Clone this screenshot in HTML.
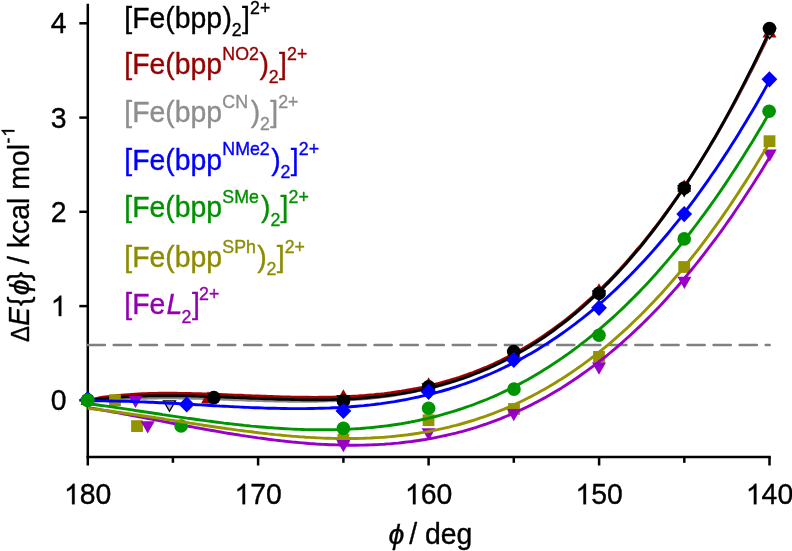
<!DOCTYPE html>
<html><head><meta charset="utf-8"><title>chart</title>
<style>html,body{margin:0;padding:0;background:#fff;}svg{display:block;will-change:transform}text{font-family:"Liberation Sans",sans-serif;stroke-width:0.35px;stroke-linejoin:round}</style>
</head><body>
<svg width="792" height="551" viewBox="0 0 792 551">
<rect width="792" height="551" fill="#fff"/>
<path d="M87.8 3.8 V465.5" stroke="#000" stroke-width="2.5" fill="none"/>
<path d="M86.5 456.9 H770.8" stroke="#000" stroke-width="2.5" fill="none"/>
<path d="M769.5 456.9 V465.5" stroke="#000" stroke-width="2.5"/>
<path d="M684.3 456.9 V462.8" stroke="#000" stroke-width="2.5"/>
<path d="M599.1 456.9 V465.5" stroke="#000" stroke-width="2.5"/>
<path d="M513.8 456.9 V462.8" stroke="#000" stroke-width="2.5"/>
<path d="M428.6 456.9 V465.5" stroke="#000" stroke-width="2.5"/>
<path d="M343.4 456.9 V462.8" stroke="#000" stroke-width="2.5"/>
<path d="M258.1 456.9 V465.5" stroke="#000" stroke-width="2.5"/>
<path d="M172.9 456.9 V462.8" stroke="#000" stroke-width="2.5"/>
<path d="M79.3 400.3 H87.8" stroke="#000" stroke-width="2.5"/>
<path d="M79.3 306.1 H87.8" stroke="#000" stroke-width="2.5"/>
<path d="M79.3 211.8 H87.8" stroke="#000" stroke-width="2.5"/>
<path d="M79.3 117.6 H87.8" stroke="#000" stroke-width="2.5"/>
<path d="M79.3 23.3 H87.8" stroke="#000" stroke-width="2.5"/>
<path d="M87.6 345.0 H769.7" stroke="#808080" stroke-width="2.4" stroke-dasharray="17.3 8.78" stroke-linecap="round" fill="none"/>
<path d="M87.7 400.4 L91.1 399.6 L94.5 398.8 L97.9 398.1 L101.3 397.4 L104.7 397.0 L108.2 396.6 L111.6 396.2 L115.0 395.9 L118.4 395.5 L121.8 395.2 L125.2 394.9 L128.6 394.6 L132.0 394.4 L135.4 394.2 L138.8 394.0 L142.2 393.8 L145.7 393.6 L149.1 393.5 L152.5 393.4 L155.9 393.4 L159.3 393.3 L162.7 393.3 L166.1 393.3 L169.5 393.3 L172.9 393.3 L176.3 393.3 L179.7 393.4 L183.2 393.4 L186.6 393.5 L190.0 393.5 L193.4 393.6 L196.8 393.7 L200.2 393.8 L203.6 393.9 L207.0 394.0 L210.4 394.1 L213.8 394.2 L217.2 394.4 L220.7 394.5 L224.1 394.6 L227.5 394.8 L230.9 394.9 L234.3 395.1 L237.7 395.2 L241.1 395.3 L244.5 395.5 L247.9 395.6 L251.3 395.8 L254.7 395.9 L258.1 396.0 L261.6 396.2 L265.0 396.3 L268.4 396.4 L271.8 396.5 L275.2 396.7 L278.6 396.8 L282.0 396.9 L285.4 397.0 L288.8 397.0 L292.2 397.1 L295.6 397.2 L299.1 397.2 L302.5 397.3 L305.9 397.3 L309.3 397.3 L312.7 397.4 L316.1 397.4 L319.5 397.3 L322.9 397.3 L326.3 397.3 L329.7 397.2 L333.1 397.1 L336.6 397.0 L340.0 396.9 L343.4 396.8 L346.8 396.6 L350.2 396.5 L353.6 396.3 L357.0 396.1 L360.4 395.8 L363.8 395.6 L367.2 395.3 L370.6 395.0 L374.1 394.7 L377.5 394.3 L380.9 394.0 L384.3 393.6 L387.7 393.1 L391.1 392.7 L394.5 392.2 L397.9 391.7 L401.3 391.2 L404.7 390.6 L408.1 390.0 L411.6 389.4 L415.0 388.8 L418.4 388.1 L421.8 387.4 L425.2 386.6 L428.6 385.9 L432.0 385.1 L435.4 384.2 L438.8 383.3 L442.2 382.4 L445.6 381.5 L449.1 380.5 L452.5 379.4 L455.9 378.4 L459.3 377.3 L462.7 376.1 L466.1 375.0 L469.5 373.7 L472.9 372.5 L476.3 371.2 L479.7 369.8 L483.1 368.4 L486.6 367.0 L490.0 365.5 L493.4 364.0 L496.8 362.4 L500.2 360.8 L503.6 359.1 L507.0 357.4 L510.4 355.6 L513.8 353.8 L517.2 352.0 L520.6 350.0 L524.1 348.1 L527.5 346.1 L530.9 344.0 L534.3 341.9 L537.7 339.7 L541.1 337.5 L544.5 335.2 L547.9 332.8 L551.3 330.4 L554.7 328.0 L558.1 325.5 L561.6 322.9 L565.0 320.3 L568.4 317.6 L571.8 314.8 L575.2 312.0 L578.6 309.1 L582.0 306.2 L585.4 303.2 L588.8 300.1 L592.2 297.0 L595.6 293.8 L599.0 290.6 L602.5 287.3 L605.9 283.9 L609.3 280.4 L612.7 276.9 L616.1 273.3 L619.5 269.7 L622.9 265.9 L626.3 262.1 L629.7 258.3 L633.1 254.3 L636.5 250.3 L640.0 246.3 L643.4 242.1 L646.8 237.9 L650.2 233.6 L653.6 229.2 L657.0 224.8 L660.4 220.3 L663.8 215.7 L667.2 211.1 L670.6 206.3 L674.0 201.5 L677.5 196.6 L680.9 191.7 L684.3 186.6 L687.7 181.5 L691.1 176.3 L694.5 171.0 L697.9 165.6 L701.3 160.2 L704.7 154.7 L708.1 149.1 L711.5 143.4 L715.0 137.7 L718.4 131.8 L721.8 125.9 L725.2 119.9 L728.6 113.8 L732.0 107.6 L735.4 101.3 L738.8 94.9 L742.2 88.4 L745.6 81.9 L749.0 75.2 L752.5 68.4 L755.9 61.6 L759.3 54.6 L762.7 47.6 L766.1 40.5 L769.5 33.2" fill="none" stroke="#a80000" stroke-width="2.90" stroke-linejoin="round"/>
<path d="M87.7 401.2 L91.1 401.0 L94.5 400.8 L97.9 400.6 L101.3 400.5 L104.7 400.4 L108.2 400.3 L111.6 400.2 L115.0 399.9 L118.4 399.6 L121.8 399.3 L125.2 399.1 L128.6 398.9 L132.0 398.7 L135.4 398.6 L138.8 398.4 L142.2 398.3 L145.7 398.2 L149.1 398.1 L152.5 398.0 L155.9 398.0 L159.3 397.9 L162.7 397.9 L166.1 397.9 L169.5 397.9 L172.9 397.9 L176.3 397.9 L179.7 398.0 L183.2 398.0 L186.6 398.1 L190.0 398.1 L193.4 398.2 L196.8 398.3 L200.2 398.4 L203.6 398.5 L207.0 398.6 L210.4 398.7 L213.8 398.8 L217.2 399.0 L220.7 399.1 L224.1 399.2 L227.5 399.4 L230.9 399.5 L234.3 399.7 L237.7 399.8 L241.1 399.9 L244.5 400.1 L247.9 400.2 L251.3 400.3 L254.7 400.4 L258.1 400.5 L261.6 400.6 L265.0 400.7 L268.4 400.8 L271.8 400.9 L275.2 401.0 L278.6 401.0 L282.0 401.1 L285.4 401.1 L288.8 401.2 L292.2 401.2 L295.6 401.2 L299.1 401.3 L302.5 401.3 L305.9 401.3 L309.3 401.2 L312.7 401.2 L316.1 401.2 L319.5 401.1 L322.9 401.0 L326.3 400.9 L329.7 400.8 L333.1 400.7 L336.6 400.6 L340.0 400.4 L343.4 400.3 L346.8 400.1 L350.2 399.9 L353.6 399.6 L357.0 399.4 L360.4 399.1 L363.8 398.8 L367.2 398.5 L370.6 398.2 L374.1 397.8 L377.5 397.5 L380.9 397.0 L384.3 396.6 L387.7 396.2 L391.1 395.7 L394.5 395.2 L397.9 394.6 L401.3 394.0 L404.7 393.4 L408.1 392.8 L411.6 392.2 L415.0 391.5 L418.4 390.7 L421.8 390.0 L425.2 389.2 L428.6 388.5 L432.0 387.6 L435.4 386.8 L438.8 385.9 L442.2 385.0 L445.6 384.0 L449.1 383.0 L452.5 381.9 L455.9 380.9 L459.3 379.7 L462.7 378.6 L466.1 377.4 L469.5 376.1 L472.9 374.8 L476.3 373.5 L479.7 372.1 L483.1 370.7 L486.6 369.3 L490.0 367.8 L493.4 366.2 L496.8 364.6 L500.2 363.0 L503.6 361.3 L507.0 359.5 L510.4 357.7 L513.8 355.9 L517.2 354.0 L520.6 352.1 L524.1 350.1 L527.5 348.1 L530.9 346.0 L534.3 343.8 L537.7 341.6 L541.1 339.4 L544.5 337.0 L547.9 334.7 L551.3 332.3 L554.7 329.8 L558.1 327.2 L561.6 324.6 L565.0 322.0 L568.4 319.3 L571.8 316.5 L575.2 313.7 L578.6 310.8 L582.0 307.8 L585.4 304.8 L588.8 301.7 L592.2 298.6 L595.6 295.4 L599.0 292.1 L602.5 288.7 L605.9 285.3 L609.3 281.9 L612.7 278.3 L616.1 274.7 L619.5 271.0 L622.9 267.3 L626.3 263.5 L629.7 259.6 L633.1 255.6 L636.5 251.6 L640.0 247.5 L643.4 243.3 L646.8 239.0 L650.2 234.7 L653.6 230.3 L657.0 225.8 L660.4 221.3 L663.8 216.6 L667.2 211.9 L670.6 207.1 L674.0 202.3 L677.5 197.3 L680.9 192.3 L684.3 187.2 L687.7 182.0 L691.1 176.8 L694.5 171.4 L697.9 166.0 L701.3 160.4 L704.7 154.8 L708.1 149.2 L711.5 143.4 L715.0 137.5 L718.4 131.6 L721.8 125.5 L725.2 119.4 L728.6 113.2 L732.0 106.9 L735.4 100.5 L738.8 94.0 L742.2 87.5 L745.6 80.8 L749.0 74.0 L752.5 67.2 L755.9 60.3 L759.3 53.2 L762.7 46.1 L766.1 38.9 L769.5 31.5" fill="none" stroke="#8a8a8a" stroke-width="2.90" stroke-linejoin="round"/>
<path d="M87.7 392.7 l7.00 12.20 l-14.00 0 z" fill="#a80000"/><path d="M208.0 391.2 l7.00 12.20 l-14.00 0 z" fill="#a80000"/><path d="M343.4 389.3 l7.00 12.20 l-14.00 0 z" fill="#a80000"/><path d="M428.6 377.3 l7.00 12.20 l-14.00 0 z" fill="#a80000"/><path d="M513.8 345.3 l7.00 12.20 l-14.00 0 z" fill="#a80000"/><path d="M599.0 283.3 l7.00 12.20 l-14.00 0 z" fill="#a80000"/><path d="M684.2 179.6 l7.00 12.20 l-14.00 0 z" fill="#a80000"/><path d="M769.5 25.3 l7.00 12.20 l-14.00 0 z" fill="#a80000"/>
<path d="M87.7 400.7 L91.1 400.2 L94.5 399.8 L97.9 399.4 L101.3 399.0 L104.7 398.6 L108.2 398.3 L111.6 398.0 L115.0 397.7 L118.4 397.4 L121.8 397.1 L125.2 396.9 L128.6 396.7 L132.0 396.5 L135.4 396.4 L138.8 396.2 L142.2 396.1 L145.7 396.0 L149.1 395.9 L152.5 395.8 L155.9 395.8 L159.3 395.7 L162.7 395.7 L166.1 395.7 L169.5 395.7 L172.9 395.7 L176.3 395.7 L179.7 395.8 L183.2 395.8 L186.6 395.9 L190.0 395.9 L193.4 396.0 L196.8 396.1 L200.2 396.2 L203.6 396.3 L207.0 396.4 L210.4 396.5 L213.8 396.6 L217.2 396.8 L220.7 396.9 L224.1 397.0 L227.5 397.2 L230.9 397.3 L234.3 397.5 L237.7 397.6 L241.1 397.7 L244.5 397.9 L247.9 398.0 L251.3 398.2 L254.7 398.3 L258.1 398.4 L261.6 398.6 L265.0 398.7 L268.4 398.8 L271.8 398.9 L275.2 399.1 L278.6 399.2 L282.0 399.3 L285.4 399.4 L288.8 399.4 L292.2 399.5 L295.6 399.6 L299.1 399.6 L302.5 399.7 L305.9 399.7 L309.3 399.7 L312.7 399.8 L316.1 399.8 L319.5 399.7 L322.9 399.7 L326.3 399.7 L329.7 399.6 L333.1 399.5 L336.6 399.4 L340.0 399.3 L343.4 399.2 L346.8 399.0 L350.2 398.9 L353.6 398.7 L357.0 398.5 L360.4 398.2 L363.8 398.0 L367.2 397.7 L370.6 397.4 L374.1 397.1 L377.5 396.7 L380.9 396.4 L384.3 396.0 L387.7 395.5 L391.1 395.1 L394.5 394.6 L397.9 394.1 L401.3 393.6 L404.7 393.0 L408.1 392.4 L411.6 391.8 L415.0 391.1 L418.4 390.4 L421.8 389.7 L425.2 388.9 L428.6 388.2 L432.0 387.3 L435.4 386.5 L438.8 385.6 L442.2 384.7 L445.6 383.7 L449.1 382.7 L452.5 381.6 L455.9 380.6 L459.3 379.4 L462.7 378.3 L466.1 377.1 L469.5 375.8 L472.9 374.5 L476.3 373.2 L479.7 371.8 L483.1 370.4 L486.6 369.0 L490.0 367.5 L493.4 365.9 L496.8 364.3 L500.2 362.7 L503.6 361.0 L507.0 359.2 L510.4 357.4 L513.8 355.6 L517.2 353.7 L520.6 351.8 L524.1 349.8 L527.5 347.8 L530.9 345.7 L534.3 343.5 L537.7 341.3 L541.1 339.1 L544.5 336.7 L547.9 334.4 L551.3 332.0 L554.7 329.5 L558.1 326.9 L561.6 324.3 L565.0 321.7 L568.4 319.0 L571.8 316.2 L575.2 313.4 L578.6 310.5 L582.0 307.5 L585.4 304.5 L588.8 301.4 L592.2 298.3 L595.6 295.1 L599.0 291.8 L602.5 288.4 L605.9 285.0 L609.3 281.6 L612.7 278.0 L616.1 274.4 L619.5 270.7 L622.9 267.0 L626.3 263.2 L629.7 259.3 L633.1 255.3 L636.5 251.3 L640.0 247.2 L643.4 243.0 L646.8 238.7 L650.2 234.4 L653.6 230.0 L657.0 225.5 L660.4 221.0 L663.8 216.3 L667.2 211.6 L670.6 206.8 L674.0 202.0 L677.5 197.0 L680.9 192.0 L684.3 186.9 L687.7 181.7 L691.1 176.5 L694.5 171.1 L697.9 165.7 L701.3 160.1 L704.7 154.5 L708.1 148.9 L711.5 143.1 L715.0 137.2 L718.4 131.3 L721.8 125.2 L725.2 119.1 L728.6 112.9 L732.0 106.6 L735.4 100.2 L738.8 93.7 L742.2 87.2 L745.6 80.5 L749.0 73.7 L752.5 66.9 L755.9 60.0 L759.3 52.9 L762.7 45.8 L766.1 38.6 L769.5 31.2" fill="none" stroke="#000000" stroke-width="2.90" stroke-linejoin="round"/>
<path d="M163.5 400.9 l12.00 0 l-6.00 10.40 z" fill="#b4b4b4" stroke="#000" stroke-width="1.3" stroke-linejoin="miter"/><path d="M337.4 395.8 l12.00 0 l-6.00 10.40 z" fill="#b4b4b4" stroke="#000" stroke-width="1.3" stroke-linejoin="miter"/><path d="M422.6 383.8 l12.00 0 l-6.00 10.40 z" fill="#b4b4b4" stroke="#000" stroke-width="1.3" stroke-linejoin="miter"/><path d="M507.8 351.1 l12.00 0 l-6.00 10.40 z" fill="#b4b4b4" stroke="#000" stroke-width="1.3" stroke-linejoin="miter"/><path d="M593.0 290.8 l12.00 0 l-6.00 10.40 z" fill="#b4b4b4" stroke="#000" stroke-width="1.3" stroke-linejoin="miter"/><path d="M678.2 185.7 l12.00 0 l-6.00 10.40 z" fill="#b4b4b4" stroke="#000" stroke-width="1.3" stroke-linejoin="miter"/><path d="M763.7 28.3 l12.00 0 l-6.00 10.40 z" fill="#b4b4b4" stroke="#000" stroke-width="1.3" stroke-linejoin="miter"/>
<circle cx="87.7" cy="400.0" r="6.8" fill="#000000"/><circle cx="213.8" cy="397.6" r="6.8" fill="#000000"/><circle cx="343.4" cy="401.0" r="6.8" fill="#000000"/><circle cx="428.6" cy="386.8" r="6.8" fill="#000000"/><circle cx="513.7" cy="351.6" r="6.8" fill="#000000"/><circle cx="599.0" cy="293.3" r="6.8" fill="#000000"/><circle cx="684.2" cy="188.0" r="6.8" fill="#000000"/><circle cx="769.5" cy="28.5" r="6.8" fill="#000000"/>
<rect x="109.1" y="394.3" width="11.8" height="11.8" fill="#949400"/><rect x="131.1" y="420.2" width="11.8" height="11.8" fill="#949400"/><rect x="337.5" y="433.9" width="11.8" height="11.8" fill="#949400"/><rect x="422.6" y="414.3" width="11.8" height="11.8" fill="#949400"/><rect x="508.1" y="403.1" width="11.8" height="11.8" fill="#949400"/><rect x="593.1" y="351.0" width="11.8" height="11.8" fill="#949400"/><rect x="678.3" y="261.1" width="11.8" height="11.8" fill="#949400"/><rect x="763.6" y="135.3" width="11.8" height="11.8" fill="#949400"/>
<path d="M128.5 395.9 l14.00 0 l-7.00 12.20 z" fill="#9600c8"/><path d="M140.7 421.3 l14.00 0 l-7.00 12.20 z" fill="#9600c8"/><path d="M336.4 440.0 l14.00 0 l-7.00 12.20 z" fill="#9600c8"/><path d="M421.6 428.2 l14.00 0 l-7.00 12.20 z" fill="#9600c8"/><path d="M506.8 409.0 l14.00 0 l-7.00 12.20 z" fill="#9600c8"/><path d="M592.0 362.6 l14.00 0 l-7.00 12.20 z" fill="#9600c8"/><path d="M677.4 276.8 l14.00 0 l-7.00 12.20 z" fill="#9600c8"/><path d="M762.7 149.5 l14.00 0 l-7.00 12.20 z" fill="#9600c8"/>
<path d="M87.7 407.5 L91.1 408.1 L94.5 408.7 L97.9 409.3 L101.3 409.9 L104.7 410.5 L108.2 411.1 L111.6 411.7 L115.0 412.3 L118.4 412.9 L121.8 413.6 L125.2 414.2 L128.6 414.9 L132.0 415.5 L135.4 416.1 L138.8 416.8 L142.2 417.4 L145.7 418.1 L149.1 418.7 L152.5 419.4 L155.9 420.0 L159.3 420.7 L162.7 421.4 L166.1 422.0 L169.5 422.7 L172.9 423.3 L176.3 424.0 L179.7 424.6 L183.2 425.2 L186.6 425.9 L190.0 426.5 L193.4 427.1 L196.8 427.8 L200.2 428.4 L203.6 429.0 L207.0 429.6 L210.4 430.2 L213.8 430.8 L217.2 431.4 L220.7 432.0 L224.1 432.6 L227.5 433.2 L230.9 433.7 L234.3 434.3 L237.7 434.8 L241.1 435.4 L244.5 435.9 L247.9 436.4 L251.3 436.9 L254.7 437.4 L258.1 437.9 L261.6 438.3 L265.0 438.8 L268.4 439.3 L271.8 439.7 L275.2 440.1 L278.6 440.5 L282.0 440.9 L285.4 441.3 L288.8 441.6 L292.2 442.0 L295.6 442.3 L299.1 442.6 L302.5 442.9 L305.9 443.2 L309.3 443.5 L312.7 443.7 L316.1 444.0 L319.5 444.2 L322.9 444.4 L326.3 444.5 L329.7 444.7 L333.1 444.8 L336.6 444.9 L340.0 445.0 L343.4 445.1 L346.8 445.2 L350.2 445.2 L353.6 445.2 L357.0 445.2 L360.4 445.1 L363.8 445.1 L367.2 445.0 L370.6 444.9 L374.1 444.7 L377.5 444.6 L380.9 444.4 L384.3 444.2 L387.7 443.9 L391.1 443.7 L394.5 443.4 L397.9 443.1 L401.3 442.7 L404.7 442.3 L408.1 441.9 L411.6 441.5 L415.0 441.0 L418.4 440.5 L421.8 440.0 L425.2 439.5 L428.6 438.9 L432.0 438.3 L435.4 437.6 L438.8 436.9 L442.2 436.2 L445.6 435.5 L449.1 434.7 L452.5 433.9 L455.9 433.1 L459.3 432.2 L462.7 431.3 L466.1 430.3 L469.5 429.3 L472.9 428.3 L476.3 427.3 L479.7 426.2 L483.1 425.0 L486.6 423.9 L490.0 422.7 L493.4 421.4 L496.8 420.1 L500.2 418.8 L503.6 417.4 L507.0 416.0 L510.4 414.6 L513.8 413.1 L517.2 411.6 L520.6 410.0 L524.1 408.4 L527.5 406.8 L530.9 405.1 L534.3 403.3 L537.7 401.6 L541.1 399.7 L544.5 397.9 L547.9 396.0 L551.3 394.0 L554.7 392.0 L558.1 390.0 L561.6 387.9 L565.0 385.7 L568.4 383.5 L571.8 381.3 L575.2 379.0 L578.6 376.7 L582.0 374.3 L585.4 371.9 L588.8 369.4 L592.2 366.9 L595.6 364.3 L599.0 361.7 L602.5 359.0 L605.9 356.3 L609.3 353.5 L612.7 350.7 L616.1 347.8 L619.5 344.9 L622.9 341.9 L626.3 338.8 L629.7 335.7 L633.1 332.6 L636.5 329.4 L640.0 326.1 L643.4 322.8 L646.8 319.4 L650.2 316.0 L653.6 312.5 L657.0 309.0 L660.4 305.4 L663.8 301.7 L667.2 298.0 L670.6 294.2 L674.0 290.4 L677.5 286.5 L680.9 282.5 L684.3 278.5 L687.7 274.4 L691.1 270.3 L694.5 266.1 L697.9 261.9 L701.3 257.5 L704.7 253.2 L708.1 248.7 L711.5 244.2 L715.0 239.6 L718.4 235.0 L721.8 230.3 L725.2 225.5 L728.6 220.7 L732.0 215.8 L735.4 210.8 L738.8 205.8 L742.2 200.7 L745.6 195.5 L749.0 190.3 L752.5 185.0 L755.9 179.6 L759.3 174.2 L762.7 168.7 L766.1 163.1 L769.5 157.5" fill="none" stroke="#9600c8" stroke-width="2.90" stroke-linejoin="round"/>
<path d="M87.7 401.0 L91.1 400.9 L94.5 400.9 L97.9 400.9 L101.3 400.9 L104.7 400.9 L108.2 401.0 L111.6 401.0 L115.0 401.1 L118.4 401.1 L121.8 401.2 L125.2 401.3 L128.6 401.4 L132.0 401.5 L135.4 401.6 L138.8 401.8 L142.2 401.9 L145.7 402.0 L149.1 402.2 L152.5 402.3 L155.9 402.5 L159.3 402.7 L162.7 402.8 L166.1 403.0 L169.5 403.2 L172.9 403.4 L176.3 403.5 L179.7 403.7 L183.2 403.9 L186.6 404.1 L190.0 404.3 L193.4 404.5 L196.8 404.7 L200.2 404.9 L203.6 405.1 L207.0 405.3 L210.4 405.5 L213.8 405.7 L217.2 405.9 L220.7 406.1 L224.1 406.2 L227.5 406.4 L230.9 406.6 L234.3 406.8 L237.7 406.9 L241.1 407.1 L244.5 407.3 L247.9 407.4 L251.3 407.6 L254.7 407.7 L258.1 407.8 L261.6 407.9 L265.0 408.1 L268.4 408.2 L271.8 408.2 L275.2 408.3 L278.6 408.4 L282.0 408.5 L285.4 408.5 L288.8 408.6 L292.2 408.6 L295.6 408.6 L299.1 408.6 L302.5 408.6 L305.9 408.6 L309.3 408.5 L312.7 408.5 L316.1 408.4 L319.5 408.3 L322.9 408.2 L326.3 408.1 L329.7 408.0 L333.1 407.8 L336.6 407.7 L340.0 407.5 L343.4 407.3 L346.8 407.0 L350.2 406.8 L353.6 406.5 L357.0 406.2 L360.4 405.9 L363.8 405.6 L367.2 405.2 L370.6 404.9 L374.1 404.5 L377.5 404.0 L380.9 403.6 L384.3 403.1 L387.7 402.6 L391.1 402.1 L394.5 401.6 L397.9 401.0 L401.3 400.4 L404.7 399.8 L408.1 399.1 L411.6 398.4 L415.0 397.7 L418.4 397.0 L421.8 396.2 L425.2 395.4 L428.6 394.6 L432.0 393.7 L435.4 392.8 L438.8 391.9 L442.2 391.0 L445.6 390.0 L449.1 389.0 L452.5 387.9 L455.9 386.8 L459.3 385.7 L462.7 384.5 L466.1 383.3 L469.5 382.1 L472.9 380.9 L476.3 379.6 L479.7 378.2 L483.1 376.8 L486.6 375.4 L490.0 374.0 L493.4 372.5 L496.8 371.0 L500.2 369.4 L503.6 367.8 L507.0 366.1 L510.4 364.4 L513.8 362.7 L517.2 360.9 L520.6 359.1 L524.1 357.2 L527.5 355.3 L530.9 353.4 L534.3 351.4 L537.7 349.4 L541.1 347.3 L544.5 345.1 L547.9 343.0 L551.3 340.7 L554.7 338.5 L558.1 336.2 L561.6 333.8 L565.0 331.4 L568.4 328.9 L571.8 326.4 L575.2 323.9 L578.6 321.2 L582.0 318.6 L585.4 315.9 L588.8 313.1 L592.2 310.3 L595.6 307.4 L599.0 304.5 L602.5 301.5 L605.9 298.5 L609.3 295.4 L612.7 292.3 L616.1 289.1 L619.5 285.8 L622.9 282.5 L626.3 279.1 L629.7 275.7 L633.1 272.2 L636.5 268.7 L640.0 265.1 L643.4 261.5 L646.8 257.8 L650.2 254.0 L653.6 250.1 L657.0 246.3 L660.4 242.3 L663.8 238.3 L667.2 234.2 L670.6 230.1 L674.0 225.9 L677.5 221.6 L680.9 217.3 L684.3 212.9 L687.7 208.4 L691.1 203.9 L694.5 199.3 L697.9 194.6 L701.3 189.9 L704.7 185.1 L708.1 180.3 L711.5 175.3 L715.0 170.3 L718.4 165.3 L721.8 160.1 L725.2 154.9 L728.6 149.7 L732.0 144.3 L735.4 138.9 L738.8 133.4 L742.2 127.8 L745.6 122.2 L749.0 116.5 L752.5 110.7 L755.9 104.9 L759.3 99.0 L762.7 93.0 L766.1 86.9 L769.5 80.7" fill="none" stroke="#0000ff" stroke-width="2.90" stroke-linejoin="round"/>
<path d="M87.7 391.1 l7.90 8.10 l-7.90 8.10 l-7.90 -8.10 z" fill="#0000ff"/><path d="M186.7 396.3 l7.90 8.10 l-7.90 8.10 l-7.90 -8.10 z" fill="#0000ff"/><path d="M343.4 402.9 l7.90 8.10 l-7.90 8.10 l-7.90 -8.10 z" fill="#0000ff"/><path d="M428.6 383.7 l7.90 8.10 l-7.90 8.10 l-7.90 -8.10 z" fill="#0000ff"/><path d="M513.8 351.8 l7.90 8.10 l-7.90 8.10 l-7.90 -8.10 z" fill="#0000ff"/><path d="M599.0 299.7 l7.90 8.10 l-7.90 8.10 l-7.90 -8.10 z" fill="#0000ff"/><path d="M684.2 206.0 l7.90 8.10 l-7.90 8.10 l-7.90 -8.10 z" fill="#0000ff"/><path d="M769.4 71.2 l7.90 8.10 l-7.90 8.10 l-7.90 -8.10 z" fill="#0000ff"/>
<circle cx="87.6" cy="400.2" r="6.8" fill="#009400"/><circle cx="181.1" cy="426.0" r="6.8" fill="#009400"/><circle cx="343.4" cy="428.4" r="6.8" fill="#009400"/><circle cx="428.6" cy="408.2" r="6.8" fill="#009400"/><circle cx="514.0" cy="389.1" r="6.8" fill="#009400"/><circle cx="599.0" cy="335.3" r="6.8" fill="#009400"/><circle cx="684.2" cy="238.9" r="6.8" fill="#009400"/><circle cx="769.1" cy="111.2" r="6.8" fill="#009400"/>
<path d="M87.7 408.3 L91.1 408.7 L94.5 409.1 L97.9 409.5 L101.3 410.0 L104.7 410.4 L108.2 410.8 L111.6 411.3 L115.0 411.8 L118.4 412.2 L121.8 412.7 L125.2 413.2 L128.6 413.7 L132.0 414.2 L135.4 414.7 L138.8 415.2 L142.2 415.7 L145.7 416.2 L149.1 416.7 L152.5 417.2 L155.9 417.8 L159.3 418.3 L162.7 418.8 L166.1 419.4 L169.5 419.9 L172.9 420.4 L176.3 420.9 L179.7 421.5 L183.2 422.0 L186.6 422.5 L190.0 423.1 L193.4 423.6 L196.8 424.1 L200.2 424.6 L203.6 425.2 L207.0 425.7 L210.4 426.2 L213.8 426.7 L217.2 427.2 L220.7 427.7 L224.1 428.2 L227.5 428.7 L230.9 429.1 L234.3 429.6 L237.7 430.1 L241.1 430.5 L244.5 431.0 L247.9 431.4 L251.3 431.8 L254.7 432.3 L258.1 432.7 L261.6 433.1 L265.0 433.5 L268.4 433.9 L271.8 434.2 L275.2 434.6 L278.6 434.9 L282.0 435.3 L285.4 435.6 L288.8 435.9 L292.2 436.2 L295.6 436.4 L299.1 436.7 L302.5 436.9 L305.9 437.2 L309.3 437.4 L312.7 437.6 L316.1 437.8 L319.5 437.9 L322.9 438.1 L326.3 438.2 L329.7 438.3 L333.1 438.4 L336.6 438.5 L340.0 438.5 L343.4 438.5 L346.8 438.6 L350.2 438.5 L353.6 438.5 L357.0 438.5 L360.4 438.4 L363.8 438.3 L367.2 438.1 L370.6 438.0 L374.1 437.8 L377.5 437.6 L380.9 437.4 L384.3 437.2 L387.7 436.9 L391.1 436.6 L394.5 436.3 L397.9 435.9 L401.3 435.5 L404.7 435.1 L408.1 434.7 L411.6 434.2 L415.0 433.7 L418.4 433.2 L421.8 432.6 L425.2 432.1 L428.6 431.5 L432.0 430.8 L435.4 430.1 L438.8 429.4 L442.2 428.7 L445.6 427.9 L449.1 427.1 L452.5 426.2 L455.9 425.4 L459.3 424.5 L462.7 423.5 L466.1 422.5 L469.5 421.5 L472.9 420.5 L476.3 419.4 L479.7 418.2 L483.1 417.1 L486.6 415.9 L490.0 414.6 L493.4 413.4 L496.8 412.0 L500.2 410.7 L503.6 409.3 L507.0 407.8 L510.4 406.4 L513.8 404.8 L517.2 403.3 L520.6 401.7 L524.1 400.0 L527.5 398.3 L530.9 396.6 L534.3 394.8 L537.7 393.0 L541.1 391.1 L544.5 389.2 L547.9 387.3 L551.3 385.3 L554.7 383.2 L558.1 381.1 L561.6 379.0 L565.0 376.8 L568.4 374.5 L571.8 372.3 L575.2 369.9 L578.6 367.5 L582.0 365.1 L585.4 362.6 L588.8 360.1 L592.2 357.5 L595.6 354.9 L599.0 352.2 L602.5 349.4 L605.9 346.6 L609.3 343.8 L612.7 340.9 L616.1 337.9 L619.5 334.9 L622.9 331.9 L626.3 328.7 L629.7 325.6 L633.1 322.3 L636.5 319.0 L640.0 315.7 L643.4 312.3 L646.8 308.8 L650.2 305.3 L653.6 301.7 L657.0 298.1 L660.4 294.4 L663.8 290.7 L667.2 286.9 L670.6 283.0 L674.0 279.0 L677.5 275.0 L680.9 271.0 L684.3 266.9 L687.7 262.7 L691.1 258.4 L694.5 254.1 L697.9 249.8 L701.3 245.3 L704.7 240.8 L708.1 236.3 L711.5 231.6 L715.0 226.9 L718.4 222.2 L721.8 217.3 L725.2 212.4 L728.6 207.5 L732.0 202.4 L735.4 197.3 L738.8 192.1 L742.2 186.9 L745.6 181.6 L749.0 176.2 L752.5 170.7 L755.9 165.2 L759.3 159.6 L762.7 154.0 L766.1 148.2 L769.5 142.4" fill="none" stroke="#949400" stroke-width="2.90" stroke-linejoin="round"/>
<path d="M87.7 403.6 L91.1 404.0 L94.5 404.5 L97.9 405.0 L101.3 405.5 L104.7 405.9 L108.2 406.4 L111.6 406.9 L115.0 407.4 L118.4 407.9 L121.8 408.4 L125.2 408.9 L128.6 409.4 L132.0 409.9 L135.4 410.5 L138.8 411.0 L142.2 411.5 L145.7 412.0 L149.1 412.5 L152.5 413.0 L155.9 413.5 L159.3 414.0 L162.7 414.6 L166.1 415.1 L169.5 415.6 L172.9 416.1 L176.3 416.6 L179.7 417.1 L183.2 417.6 L186.6 418.1 L190.0 418.5 L193.4 419.0 L196.8 419.5 L200.2 420.0 L203.6 420.4 L207.0 420.9 L210.4 421.3 L213.8 421.8 L217.2 422.2 L220.7 422.6 L224.1 423.1 L227.5 423.5 L230.9 423.9 L234.3 424.3 L237.7 424.6 L241.1 425.0 L244.5 425.4 L247.9 425.7 L251.3 426.1 L254.7 426.4 L258.1 426.7 L261.6 427.0 L265.0 427.3 L268.4 427.6 L271.8 427.8 L275.2 428.1 L278.6 428.3 L282.0 428.5 L285.4 428.7 L288.8 428.9 L292.2 429.1 L295.6 429.2 L299.1 429.4 L302.5 429.5 L305.9 429.6 L309.3 429.7 L312.7 429.7 L316.1 429.8 L319.5 429.8 L322.9 429.8 L326.3 429.8 L329.7 429.8 L333.1 429.7 L336.6 429.6 L340.0 429.5 L343.4 429.4 L346.8 429.3 L350.2 429.1 L353.6 428.9 L357.0 428.7 L360.4 428.5 L363.8 428.2 L367.2 427.9 L370.6 427.6 L374.1 427.3 L377.5 426.9 L380.9 426.5 L384.3 426.1 L387.7 425.7 L391.1 425.2 L394.5 424.7 L397.9 424.2 L401.3 423.7 L404.7 423.1 L408.1 422.5 L411.6 421.8 L415.0 421.2 L418.4 420.5 L421.8 419.7 L425.2 419.0 L428.6 418.2 L432.0 417.3 L435.4 416.5 L438.8 415.6 L442.2 414.7 L445.6 413.7 L449.1 412.7 L452.5 411.7 L455.9 410.6 L459.3 409.5 L462.7 408.4 L466.1 407.2 L469.5 406.0 L472.9 404.8 L476.3 403.5 L479.7 402.2 L483.1 400.9 L486.6 399.5 L490.0 398.0 L493.4 396.6 L496.8 395.1 L500.2 393.5 L503.6 391.9 L507.0 390.3 L510.4 388.6 L513.8 386.9 L517.2 385.2 L520.6 383.4 L524.1 381.5 L527.5 379.7 L530.9 377.7 L534.3 375.8 L537.7 373.8 L541.1 371.7 L544.5 369.6 L547.9 367.5 L551.3 365.3 L554.7 363.0 L558.1 360.8 L561.6 358.4 L565.0 356.0 L568.4 353.6 L571.8 351.2 L575.2 348.6 L578.6 346.1 L582.0 343.4 L585.4 340.8 L588.8 338.1 L592.2 335.3 L595.6 332.5 L599.0 329.6 L602.5 326.7 L605.9 323.7 L609.3 320.7 L612.7 317.6 L616.1 314.5 L619.5 311.3 L622.9 308.1 L626.3 304.8 L629.7 301.4 L633.1 298.0 L636.5 294.6 L640.0 291.1 L643.4 287.5 L646.8 283.9 L650.2 280.2 L653.6 276.5 L657.0 272.7 L660.4 268.8 L663.8 264.9 L667.2 260.9 L670.6 256.9 L674.0 252.8 L677.5 248.7 L680.9 244.5 L684.3 240.2 L687.7 235.9 L691.1 231.5 L694.5 227.0 L697.9 222.5 L701.3 217.9 L704.7 213.3 L708.1 208.6 L711.5 203.8 L715.0 199.0 L718.4 194.1 L721.8 189.1 L725.2 184.1 L728.6 179.0 L732.0 173.8 L735.4 168.6 L738.8 163.3 L742.2 158.0 L745.6 152.5 L749.0 147.0 L752.5 141.5 L755.9 135.8 L759.3 130.1 L762.7 124.4 L766.1 118.5 L769.5 112.6" fill="none" stroke="#009400" stroke-width="2.90" stroke-linejoin="round"/>
<circle cx="87.6" cy="400.2" r="6.8" fill="#009400"/>
<path transform="translate(64.01 504.20) scale(0.01387 -0.01387)" d="M763 0H583V1147Q518 1085 412.5 1023T223 930V1104Q374 1175 487 1276T647 1472H763Z" fill="#000" stroke="#000" stroke-width="25.2" stroke-linejoin="round"/>
<text transform="translate(79.80 504.20) scale(0.9861 1)" font-size="28.80" fill="#000" stroke="#000" text-anchor="start">80</text>
<path transform="translate(234.46 504.20) scale(0.01387 -0.01387)" d="M763 0H583V1147Q518 1085 412.5 1023T223 930V1104Q374 1175 487 1276T647 1472H763Z" fill="#000" stroke="#000" stroke-width="25.2" stroke-linejoin="round"/>
<text transform="translate(250.25 504.20) scale(0.9861 1)" font-size="28.80" fill="#000" stroke="#000" text-anchor="start">70</text>
<path transform="translate(404.91 504.20) scale(0.01387 -0.01387)" d="M763 0H583V1147Q518 1085 412.5 1023T223 930V1104Q374 1175 487 1276T647 1472H763Z" fill="#000" stroke="#000" stroke-width="25.2" stroke-linejoin="round"/>
<text transform="translate(420.70 504.20) scale(0.9861 1)" font-size="28.80" fill="#000" stroke="#000" text-anchor="start">60</text>
<path transform="translate(575.36 504.20) scale(0.01387 -0.01387)" d="M763 0H583V1147Q518 1085 412.5 1023T223 930V1104Q374 1175 487 1276T647 1472H763Z" fill="#000" stroke="#000" stroke-width="25.2" stroke-linejoin="round"/>
<text transform="translate(591.15 504.20) scale(0.9861 1)" font-size="28.80" fill="#000" stroke="#000" text-anchor="start">50</text>
<path transform="translate(745.81 504.20) scale(0.01387 -0.01387)" d="M763 0H583V1147Q518 1085 412.5 1023T223 930V1104Q374 1175 487 1276T647 1472H763Z" fill="#000" stroke="#000" stroke-width="25.2" stroke-linejoin="round"/>
<text transform="translate(761.60 504.20) scale(0.9861 1)" font-size="28.80" fill="#000" stroke="#000" text-anchor="start">40</text>
<text transform="translate(66.50 410.30) scale(0.9861 1)" font-size="28.80" fill="#000" stroke="#000" text-anchor="end">0</text>
<path transform="translate(50.71 316.05) scale(0.01387 -0.01387)" d="M763 0H583V1147Q518 1085 412.5 1023T223 930V1104Q374 1175 487 1276T647 1472H763Z" fill="#000" stroke="#000" stroke-width="25.2" stroke-linejoin="round"/>
<text transform="translate(66.50 221.80) scale(0.9861 1)" font-size="28.80" fill="#000" stroke="#000" text-anchor="end">2</text>
<text transform="translate(66.50 127.55) scale(0.9861 1)" font-size="28.80" fill="#000" stroke="#000" text-anchor="end">3</text>
<text transform="translate(66.50 33.30) scale(0.9861 1)" font-size="28.80" fill="#000" stroke="#000" text-anchor="end">4</text>
<text transform="translate(388.60 543.80) scale(1.0000 1)" font-size="28.50" fill="#000" stroke="#000" text-anchor="start" font-style="italic" font-family="Liberation Serif" stroke-width="0">ϕ</text>
<text transform="translate(409.20 543.80) scale(0.9861 1)" font-size="28.80" fill="#000" stroke="#000" text-anchor="start">/ deg</text>
<g transform="translate(29.2 341.5) rotate(-90)">
<text transform="translate(-0.40 0.00) scale(0.9000 1)" font-size="26.50" fill="#000" stroke="#000" text-anchor="start" stroke-width="0">Δ</text>
<text transform="translate(15.40 0.00) scale(0.9861 1)" font-size="28.80" fill="#000" stroke="#000" text-anchor="start" font-style="italic">E</text>
<text transform="translate(35.40 0.00) scale(0.9861 1)" font-size="28.80" fill="#000" stroke="#000" text-anchor="start">{</text>
<text transform="translate(46.20 0.00) scale(1.0000 1)" font-size="28.50" fill="#000" stroke="#000" text-anchor="start" font-style="italic" font-family="Liberation Serif" stroke-width="0">ϕ</text>
<text transform="translate(60.20 0.00) scale(0.9861 1)" font-size="28.80" fill="#000" stroke="#000" text-anchor="start">} / kcal mol</text>
<text transform="translate(197.90 -14.80) scale(0.9834 1)" font-size="18.10" fill="#000" stroke="#000" text-anchor="start">-</text>
<path transform="translate(204.80 -14.80) scale(0.00869 -0.00869)" d="M763 0H583V1147Q518 1085 412.5 1023T223 930V1104Q374 1175 487 1276T647 1472H763Z" fill="#000" stroke="#000" stroke-width="40.3" stroke-linejoin="round"/>
</g>
<text transform="translate(124.30 28.00) scale(0.9861 1)" font-size="28.80" fill="#000000" stroke="#000000" text-anchor="start">[Fe(bpp</text><text transform="translate(222.50 28.00) scale(0.9861 1)" font-size="28.80" fill="#000000" stroke="#000000" text-anchor="start">)</text><text transform="translate(231.80 36.40) scale(0.9834 1)" font-size="18.10" fill="#000000" stroke="#000000" text-anchor="start">2</text><text transform="translate(242.00 28.00) scale(0.9861 1)" font-size="28.80" fill="#000000" stroke="#000000" text-anchor="start">]</text><text transform="translate(250.00 13.60) scale(0.9834 1)" font-size="18.10" fill="#000000" stroke="#000000" text-anchor="start">2+</text>
<text transform="translate(124.30 74.40) scale(0.9861 1)" font-size="28.80" fill="#960000" stroke="#960000" text-anchor="start">[Fe(bpp</text><text transform="translate(222.30 60.00) scale(0.9834 1)" font-size="18.10" fill="#960000" stroke="#960000" text-anchor="start">NO2</text><text transform="translate(259.50 74.40) scale(0.9861 1)" font-size="28.80" fill="#960000" stroke="#960000" text-anchor="start">)</text><text transform="translate(268.80 82.80) scale(0.9834 1)" font-size="18.10" fill="#960000" stroke="#960000" text-anchor="start">2</text><text transform="translate(279.00 74.40) scale(0.9861 1)" font-size="28.80" fill="#960000" stroke="#960000" text-anchor="start">]</text><text transform="translate(287.00 60.00) scale(0.9834 1)" font-size="18.10" fill="#960000" stroke="#960000" text-anchor="start">2+</text>
<text transform="translate(124.30 122.00) scale(0.9861 1)" font-size="28.80" fill="#8e8e8e" stroke="#8e8e8e" text-anchor="start">[Fe(bpp</text><text transform="translate(222.30 107.60) scale(0.9834 1)" font-size="18.10" fill="#8e8e8e" stroke="#8e8e8e" text-anchor="start">CN</text><text transform="translate(250.70 122.00) scale(0.9861 1)" font-size="28.80" fill="#8e8e8e" stroke="#8e8e8e" text-anchor="start">)</text><text transform="translate(260.00 130.40) scale(0.9834 1)" font-size="18.10" fill="#8e8e8e" stroke="#8e8e8e" text-anchor="start">2</text><text transform="translate(270.20 122.00) scale(0.9861 1)" font-size="28.80" fill="#8e8e8e" stroke="#8e8e8e" text-anchor="start">]</text><text transform="translate(278.20 107.60) scale(0.9834 1)" font-size="18.10" fill="#8e8e8e" stroke="#8e8e8e" text-anchor="start">2+</text>
<text transform="translate(124.30 169.80) scale(0.9861 1)" font-size="28.80" fill="#0000ff" stroke="#0000ff" text-anchor="start">[Fe(bpp</text><text transform="translate(222.30 155.40) scale(0.9834 1)" font-size="18.10" fill="#0000ff" stroke="#0000ff" text-anchor="start">NMe2</text><text transform="translate(271.30 169.80) scale(0.9861 1)" font-size="28.80" fill="#0000ff" stroke="#0000ff" text-anchor="start">)</text><text transform="translate(280.60 178.20) scale(0.9834 1)" font-size="18.10" fill="#0000ff" stroke="#0000ff" text-anchor="start">2</text><text transform="translate(290.80 169.80) scale(0.9861 1)" font-size="28.80" fill="#0000ff" stroke="#0000ff" text-anchor="start">]</text><text transform="translate(298.80 155.40) scale(0.9834 1)" font-size="18.10" fill="#0000ff" stroke="#0000ff" text-anchor="start">2+</text>
<text transform="translate(124.30 217.40) scale(0.9861 1)" font-size="28.80" fill="#009000" stroke="#009000" text-anchor="start">[Fe(bpp</text><text transform="translate(222.30 203.00) scale(0.9834 1)" font-size="18.10" fill="#009000" stroke="#009000" text-anchor="start">SMe</text><text transform="translate(261.10 217.40) scale(0.9861 1)" font-size="28.80" fill="#009000" stroke="#009000" text-anchor="start">)</text><text transform="translate(270.40 225.80) scale(0.9834 1)" font-size="18.10" fill="#009000" stroke="#009000" text-anchor="start">2</text><text transform="translate(280.60 217.40) scale(0.9861 1)" font-size="28.80" fill="#009000" stroke="#009000" text-anchor="start">]</text><text transform="translate(288.60 203.00) scale(0.9834 1)" font-size="18.10" fill="#009000" stroke="#009000" text-anchor="start">2+</text>
<text transform="translate(124.30 266.90) scale(0.9861 1)" font-size="28.80" fill="#8c8c00" stroke="#8c8c00" text-anchor="start">[Fe(bpp</text><text transform="translate(222.30 252.50) scale(0.9834 1)" font-size="18.10" fill="#8c8c00" stroke="#8c8c00" text-anchor="start">SPh</text><text transform="translate(257.20 266.90) scale(0.9861 1)" font-size="28.80" fill="#8c8c00" stroke="#8c8c00" text-anchor="start">)</text><text transform="translate(266.50 275.30) scale(0.9834 1)" font-size="18.10" fill="#8c8c00" stroke="#8c8c00" text-anchor="start">2</text><text transform="translate(276.70 266.90) scale(0.9861 1)" font-size="28.80" fill="#8c8c00" stroke="#8c8c00" text-anchor="start">]</text><text transform="translate(284.70 252.50) scale(0.9834 1)" font-size="18.10" fill="#8c8c00" stroke="#8c8c00" text-anchor="start">2+</text>
<text transform="translate(124.30 314.30) scale(0.9861 1)" font-size="28.80" fill="#9400b0" stroke="#9400b0" text-anchor="start">[Fe</text>
<text transform="translate(166.60 314.30) scale(0.9861 1)" font-size="28.80" fill="#9400b0" stroke="#9400b0" text-anchor="start" font-style="italic">L</text>
<text transform="translate(181.60 322.80) scale(0.9834 1)" font-size="18.10" fill="#9400b0" stroke="#9400b0" text-anchor="start">2</text>
<text transform="translate(192.00 314.30) scale(0.9861 1)" font-size="28.80" fill="#9400b0" stroke="#9400b0" text-anchor="start">]</text>
<text transform="translate(199.10 300.10) scale(0.9834 1)" font-size="18.10" fill="#9400b0" stroke="#9400b0" text-anchor="start">2+</text>
</svg>
</body></html>
